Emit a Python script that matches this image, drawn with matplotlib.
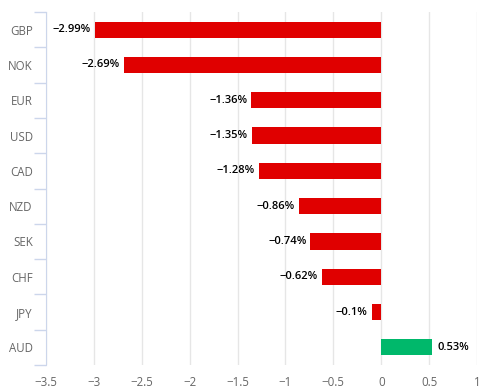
import matplotlib.pyplot as plt
import numpy as np

plt.rcParams['font.family'] = ['Open Sans', 'DejaVu Sans']

currencies = ["GBP", "NOK", "EUR", "USD", "CAD", "NZD", "SEK", "CHF", "JPY", "AUD"]
changes = [-2.99, -2.69, -1.36, -1.35, -1.28, -0.86, -0.74, -0.62, -0.1, 0.53]
xticks = [-3.5, -3, -2.5, -2, -1.5, -1, -0.5, 0, 0.5, 1]

colors = ['#00b86b' if v > 0 else '#e00000' for v in changes]
pos = np.arange(len(currencies))

fig = plt.figure(figsize=(4.92, 3.91), dpi=100)
ax = fig.add_axes([46 / 492, 1 - 365 / 391, (477 - 46) / 492, (365 - 12) / 391])

ax.barh(pos, changes, color=colors, height=0.46, zorder=3)
ax.set_xlim(-3.5, 1)
ax.set_ylim(len(currencies) - 0.5, -0.5)

for i, v in enumerate(changes):
    txt = str(v).replace('-', '\u2212') + '%'
    if v < 0:
        ax.text(v - 0.04, i, txt, ha='right', va='center', fontsize=8,
                color='#000000', fontweight='semibold')
    else:
        ax.text(v + 0.06, i, txt, ha='left', va='center', fontsize=8,
                color='#000000', fontweight='semibold')

ax.set_xticks(xticks)
ax.set_xticklabels([('%g' % t).replace('-', '\u2212') for t in xticks])
ax.set_yticks(pos)
ax.set_yticklabels(currencies)
ax.set_yticks(np.arange(-0.5, len(currencies), 1), minor=True)

ax.tick_params(axis='x', length=0, labelsize=8.3, labelcolor='#666666', pad=8)
ax.tick_params(axis='y', which='major', length=0, labelsize=8.3, labelcolor='#666666', pad=9.5)
ax.tick_params(axis='y', which='minor', length=9, color='#ccd6eb', width=1)

ax.grid(axis='x', color='#e6e6e6', linewidth=1, zorder=0)
for s in ['top', 'right', 'bottom']:
    ax.spines[s].set_visible(False)
ax.spines['left'].set_color('#ccd6eb')
ax.spines['left'].set_zorder(4)

plt.savefig('out.png', dpi=100)
